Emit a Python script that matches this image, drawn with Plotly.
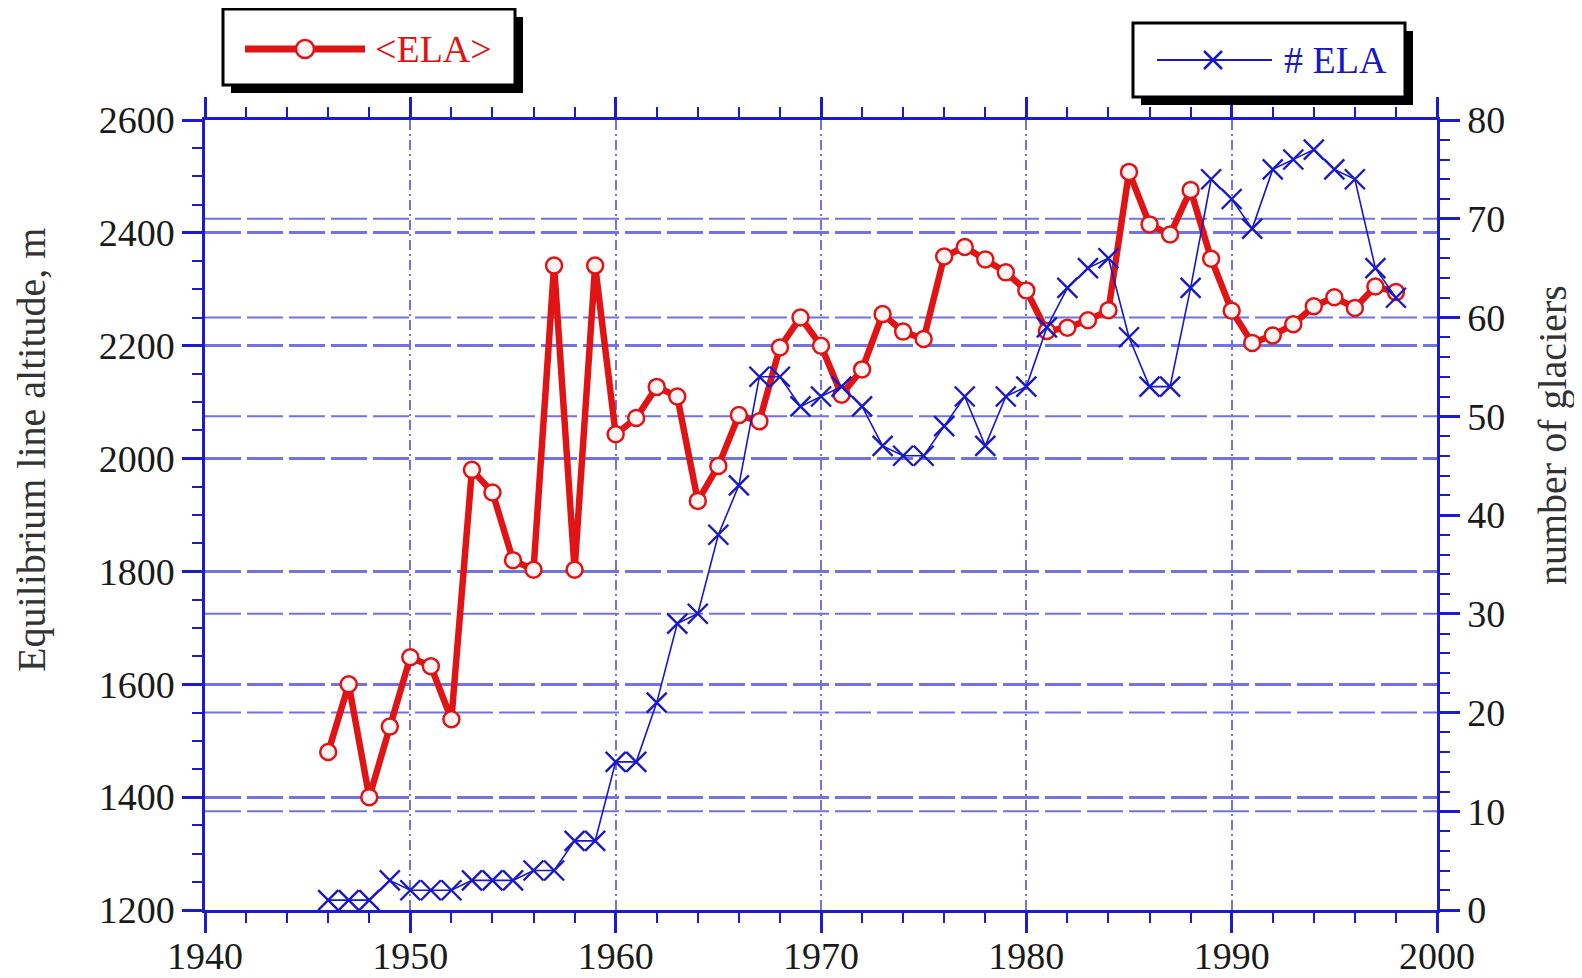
import plotly.graph_objects as go

# ---- data ----
years = list(range(1946, 1999))
ela_mean = [1480, 1600, 1400, 1525, 1648, 1632, 1538, 1980, 1940, 1820, 1803, 2342, 1803, 2342,
            2043, 2072, 2127, 2110, 1925, 1987, 2077, 2066, 2197, 2250, 2200, 2113, 2158, 2256,
            2225, 2212, 2358, 2375, 2353, 2330, 2298, 2226, 2232, 2245, 2263, 2508, 2415, 2397,
            2476, 2354, 2262, 2205, 2218, 2238, 2270, 2286, 2267, 2305, 2295]
n_glaciers = [1, 1, 1, 3, 2, 2, 2, 3, 3, 3, 4, 4, 7, 7, 15, 15, 21, 29, 30, 38, 43, 54, 54, 51,
              52, 53, 51, 47, 46, 46, 49, 52, 47, 52, 53, 59, 63, 65, 66, 58, 53, 53, 63, 74, 72,
              69, 75, 76, 77, 75, 74, 65, 62]
right_grid = [10, 20, 30, 50, 60, 70]
legend_names = ["<ELA>", "# ELA"]

RED = "#e01414"
BLUE = "#1818c8"
AXIS = "#1c1ccc"
GRID = "#7272e2"
TXT = "#1a1a1a"
FONT = "Liberation Serif, Times New Roman, serif"

OFF = 8  # default body margin of the page
W, H = 1582 - OFF, 978 - OFF
# plot area in page pixels: x 205..1437, y 120..910
L, T = 205 - OFF, 120 - OFF
R = W - (1437 - OFF)
B = H - (910 - OFF)
PW, PH = W - L - R, H - T - B


def px(x):  # page pixel -> paper
    return (x - OFF - L) / PW


def py(y):
    return (H - B - (y - OFF)) / PH


fig = go.Figure()
fig.add_trace(go.Scatter(
    x=years, y=ela_mean, name=legend_names[0], mode="lines+markers",
    line=dict(color=RED, width=6.5),
    marker=dict(symbol="circle", size=16, color="#fff4f4", line=dict(color=RED, width=2.5)),
    yaxis="y", hoverinfo="skip"))
fig.add_trace(go.Scatter(
    x=years, y=n_glaciers, name=legend_names[1], mode="lines+markers",
    line=dict(color=BLUE, width=1.6),
    marker=dict(symbol="x-thin", size=20, color=BLUE, line=dict(color=BLUE, width=2.4)),
    yaxis="y2", hoverinfo="skip"))

shapes = []
for v in right_grid:
    shapes.append(dict(type="line", xref="paper", x0=0, x1=1, yref="y2", y0=v, y1=v,
                       line=dict(color=GRID, width=2, dash="36px,6px"), layer="below"))


def legend_box(x0, y0, x1, y1, off):
    shapes.append(dict(type="rect", xref="paper", yref="paper",
                       x0=px(x0 + off), x1=px(x1 + off), y0=py(y1 + off), y1=py(y0 + off),
                       fillcolor="black", line=dict(width=0)))
    shapes.append(dict(type="rect", xref="paper", yref="paper",
                       x0=px(x0), x1=px(x1), y0=py(y1), y1=py(y0),
                       fillcolor="white", line=dict(color="black", width=3)))


legend_box(223, 9, 515, 85, 8)
legend_box(1133, 23, 1405, 97, 8)
# sample for <ELA>
shapes.append(dict(type="line", xref="paper", yref="paper", x0=px(245), x1=px(365),
                   y0=py(49), y1=py(49), line=dict(color=RED, width=7)))
shapes.append(dict(type="circle", xref="paper", yref="paper", x0=px(296), x1=px(314),
                   y0=py(58), y1=py(40), fillcolor="#fff4f4", line=dict(color=RED, width=2.5)))
# sample for # ELA
shapes.append(dict(type="line", xref="paper", yref="paper", x0=px(1157), x1=px(1272),
                   y0=py(60), y1=py(60), line=dict(color=BLUE, width=2)))
shapes.append(dict(type="line", xref="paper", yref="paper", x0=px(1204), x1=px(1222),
                   y0=py(51), y1=py(69), line=dict(color=BLUE, width=2.5)))
shapes.append(dict(type="line", xref="paper", yref="paper", x0=px(1204), x1=px(1222),
                   y0=py(69), y1=py(51), line=dict(color=BLUE, width=2.5)))

annotations = [
    dict(text=legend_names[0], xref="paper", yref="paper", x=px(373), y=py(49),
         xanchor="left", yanchor="middle", showarrow=False,
         font=dict(family=FONT, size=38, color=RED)),
    dict(text=legend_names[1], xref="paper", yref="paper", x=px(1282), y=py(60),
         xanchor="left", yanchor="middle", showarrow=False,
         font=dict(family=FONT, size=38, color=BLUE)),
    dict(text="Equilibrium line altitude, m", xref="paper", yref="paper", x=px(31), y=py(450),
         xanchor="center", yanchor="middle", textangle=-90, showarrow=False,
         font=dict(family=FONT, size=40, color="#333333")),
    dict(text="number of glaciers", xref="paper", yref="paper", x=px(1552), y=py(435),
         xanchor="center", yanchor="middle", textangle=-90, showarrow=False,
         font=dict(family=FONT, size=40, color="#333333")),
]

tickfont = dict(family=FONT, size=38, color=TXT)

fig.update_layout(
    width=W, height=H, autosize=False,
    margin=dict(l=L, r=R, t=T, b=B, pad=0, autoexpand=False),
    paper_bgcolor="white", plot_bgcolor="white",
    showlegend=False,
    shapes=shapes, annotations=annotations,
    xaxis=dict(range=[1940, 2000], dtick=10, tick0=1940, showline=True, linecolor=AXIS,
               linewidth=2.5, mirror="ticks", ticks="outside", ticklen=20, tickwidth=2.5,
               tickcolor=AXIS, tickfont=tickfont, showgrid=True, gridcolor=GRID, gridwidth=1.6,
               griddash="10px,4px,2px,4px", zeroline=False, automargin=False,
               ticklabelstandoff=-9,
               minor=dict(dtick=2, ticks="outside", ticklen=10, tickwidth=2, tickcolor=AXIS,
                          showgrid=False)),
    yaxis=dict(range=[1200, 2600], dtick=200, tick0=1200, showline=True, linecolor=AXIS,
               linewidth=2.5, ticks="outside", ticklen=20, tickwidth=2.5, tickcolor=AXIS,
               tickfont=tickfont, showgrid=True, gridcolor=GRID, gridwidth=2.6,
               griddash="36px,6px", zeroline=False, automargin=False,
               minor=dict(dtick=50, ticks="outside", ticklen=10, tickwidth=2, tickcolor=AXIS,
                          showgrid=False)),
    yaxis2=dict(range=[0, 80], dtick=10, tick0=0, overlaying="y", side="right", showline=True,
                linecolor=AXIS, linewidth=2.5, ticks="outside", ticklen=20, tickwidth=2.5,
                tickcolor=AXIS, tickfont=tickfont, showgrid=False, zeroline=False,
                automargin=False,
                minor=dict(dtick=2, ticks="outside", ticklen=10, tickwidth=2, tickcolor=AXIS,
                           showgrid=False)),
)

fig.write_html("out.html")
